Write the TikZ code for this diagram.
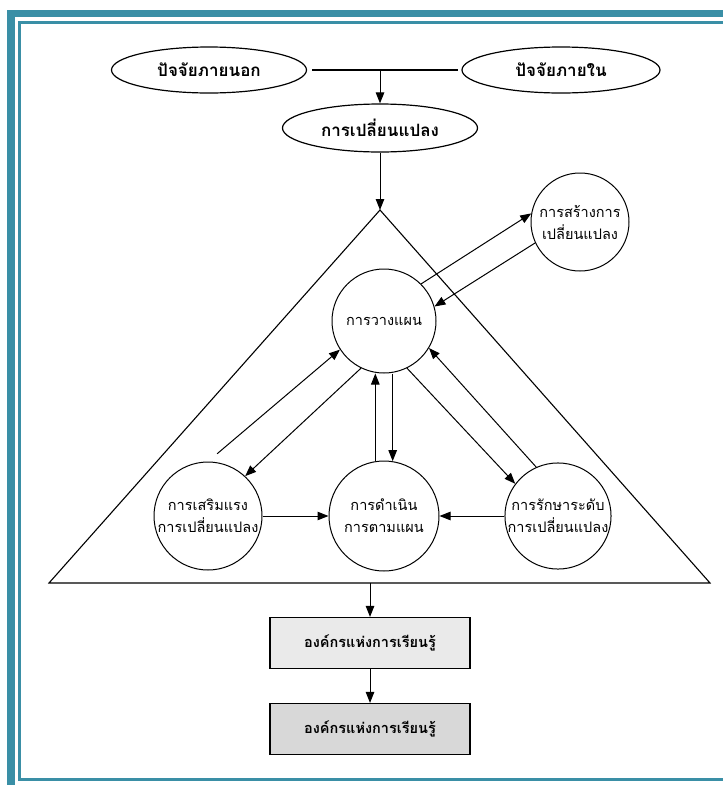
\documentclass[tikz,border=0pt]{standalone}
\usepackage{fontspec}
\newfontfamily\thaifont[Script=Thai]{Loma}
\usetikzlibrary{shapes,arrows.meta,positioning,calc}
\definecolor{framecolor}{RGB}{58,143,166}
\definecolor{boxgray}{RGB}{234,234,234}
\definecolor{boxgraydark}{RGB}{216,216,216}
\tikzset{
  factor/.style={draw, ellipse, line width=1.2pt, minimum width=195pt, minimum height=46pt,
                 inner sep=0pt, font=\thaifont\bfseries\fontsize{17}{20}\selectfont},
  stage/.style={draw, circle, line width=1pt, inner sep=0pt, align=center,
                font=\thaifont\fontsize{14.5}{22}\selectfont},
  orgbox/.style={draw, line width=1.2pt, minimum width=200pt, minimum height=51pt,
                 fill=boxgray, font=\thaifont\bfseries\fontsize{14.5}{17}\selectfont},
  flow/.style={-{Triangle[length=11pt,width=8.5pt]}, line width=1pt},
}
\begin{document}
\begin{tikzpicture}[x=1pt, y=-1pt]
  \useasboundingbox (0,0) rectangle (723,785);
  \fill[framecolor] (7,10) rectangle (15,785);
  \fill[framecolor] (7,10) rectangle (723,17);
  \draw[framecolor, line width=3pt] (723,22.5) -- (19.5,22.5) -- (19.5,779.5) -- (723,779.5);

  \node[factor] (ext) at (209,70) {ปัจจัยภายนอก};
  \node[factor, minimum width=198pt] (int) at (561,70) {ปัจจัยภายใน};
  \node[factor, minimum height=48pt] (change) at (380,128) {การเปลี่ยนแปลง};
  \coordinate (join) at (380,70);
  \draw[line width=1.2pt, shorten <=5pt, shorten >=3pt] (ext.east) -- (int.west);
  \draw[flow] (join) -- (change);

  \coordinate (apex) at (380,210);
  \coordinate (tl) at (49,583);
  \coordinate (tr) at (710,583);
  \draw[line width=1.1pt] (apex) -- (tl) -- (tr) -- cycle;
  \draw[flow] (change) -- (apex);

  \node[stage, minimum size=104pt] (plan) at (384,321) {การวางแผน};
  \node[stage, minimum size=98pt] (create) at (580,222) {การสร้างการ\\เปลี่ยนแปลง};
  \node[stage, minimum size=108pt] (reinf) at (208,516) {การเสริมแรง\\การเปลี่ยนแปลง};
  \node[stage, minimum size=110pt] (act) at (384,516) {การดำเนิน\\การตามแผน};
  \node[stage, minimum size=104pt] (maint) at (558,516) {การรักษาระดับ\\การเปลี่ยนแปลง};

  \draw[flow] (plan.45) -- (create.170);
  \draw[flow] (create.205) -- (plan.16);
  \draw[flow] (plan.244) -- (reinf.47);
  \draw[flow, shorten <=12pt] (reinf.north) -- (plan.213);
  \draw[flow] (act.99) -- (act.99 |- plan.south);
  \draw[flow] (plan.south -| act.81) -- (act.81);
  \draw[flow] (plan.296) -- (maint.143);
  \draw[flow] (maint.114) -- (plan.329);
  \draw[flow] (reinf.east) -- (act.west);
  \draw[flow] (maint.west) -- (act.east);

  \coordinate (base) at (370,583);
  \node[orgbox] (org1) at (370,643) {องค์กรแห่งการเรียนรู้};
  \node[orgbox, fill=boxgraydark] (org2) at (370,729) {องค์กรแห่งการเรียนรู้};
  \draw[flow] (base) -- (org1);
  \draw[flow] (org1) -- (org2);
\end{tikzpicture}
\end{document}
